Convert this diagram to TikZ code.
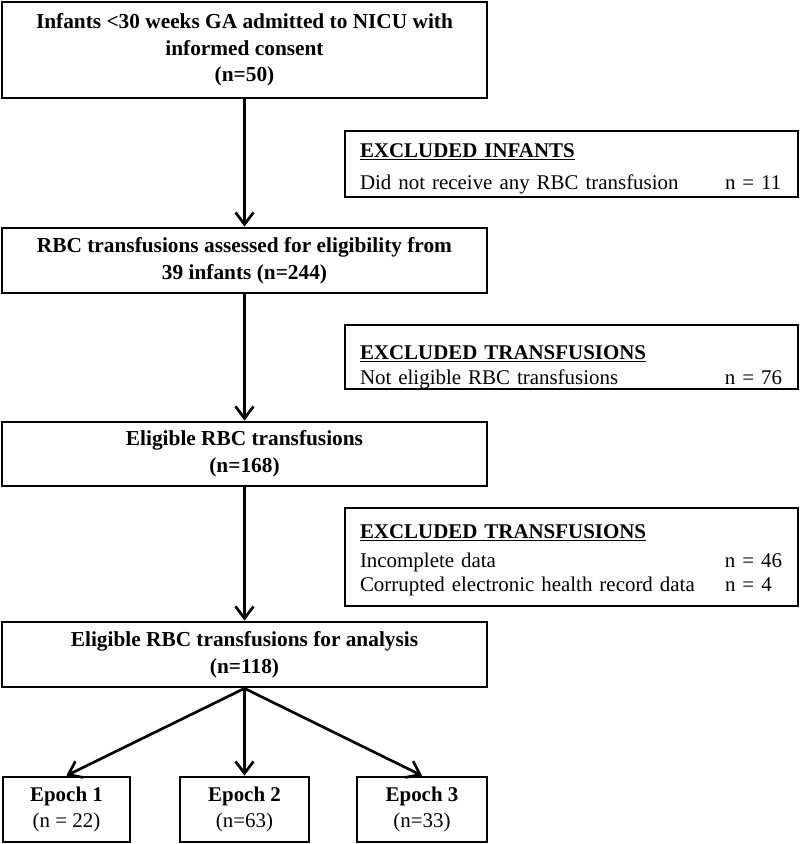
\documentclass[tikz,border=0pt]{standalone}
\usepackage{fontspec}
\setmainfont{Liberation Serif}
\usetikzlibrary{arrows.meta,positioning}
\newcommand{\exrow}[2]{\makebox[273.75pt][l]{#1}#2}

\begin{document}
\begin{tikzpicture}[x=0.75pt,y=-0.75pt,
  box/.style={draw,line width=2.1pt,minimum width=363.75pt,minimum height=48.75pt,inner sep=2pt,align=center,font=\fontsize{16}{20}\selectfont\bfseries},
  exbox/.style={draw,line width=2.1pt,text width=317.25pt,inner xsep=11.25pt,inner ysep=0pt,align=left,font=\fontsize{15.7}{18}\selectfont},
  epbox/.style={draw,line width=2.1pt,minimum height=48.75pt,inner sep=2pt,align=center,font=\fontsize{15.7}{20}\selectfont},
  arr/.style={-{Straight Barb[length=9pt,width=13.5pt]},line width=2pt}]
\useasboundingbox (0,0) rectangle (800,844);
% main flow
\node[box,minimum height=72pt] (inf) at (244.5,50) {Infants <30 weeks GA admitted to NICU with\\informed consent\\(n=50)};
\node[box] (rbc) at (244.5,260.5) {RBC transfusions assessed for eligibility from\\39 infants (n=244)};
\node[box,minimum height=48pt] (elig) at (244.5,454) {Eligible RBC transfusions\\(n=168)};
\node[box] (anal) at (244.5,654.5) {Eligible RBC transfusions for analysis\\(n=118)};
% exclusions
\node[exbox] (ex1) at (571.5,164) {\rule{0pt}{19.5pt}\underline{\textbf{EXCLUDED INFANTS}}\\[6pt]\exrow{Did not receive any RBC transfusion}{n = 11}\rule[-6pt]{0pt}{0pt}};
\node[exbox] (ex2) at (571.5,357) {\rule{0pt}{25.5pt}\underline{\textbf{EXCLUDED TRANSFUSIONS}}\\[0.75pt]\exrow{Not eligible RBC transfusions}{n = 76}\rule[-3.75pt]{0pt}{0pt}};
\node[exbox] (ex3) at (571.5,557) {\rule{0pt}{22.5pt}\underline{\textbf{EXCLUDED TRANSFUSIONS}}\\[3.75pt]\exrow{Incomplete data}{n = 46}\\\exrow{Corrupted electronic health record data}{n = 4}\rule[-11.25pt]{0pt}{0pt}};
% epochs
\node[epbox,minimum width=95.25pt] (ep1) at (66.5,809.5) {\textbf{Epoch 1}\\(n = 22)};
\node[epbox,minimum width=96.75pt] (ep2) at (244.5,809.5) {\textbf{Epoch 2}\\(n=63)};
\node[epbox,minimum width=97.5pt] (ep3) at (422,809.5) {\textbf{Epoch 3}\\(n=33)};
\draw[arr] (inf) -- (rbc);
\draw[arr] (rbc) -- (elig);
\draw[arr] (elig) -- (anal);
\draw[arr] (anal.south) -- (ep1.north);
\draw[arr] (anal.south) -- (ep2.north);
\draw[arr] (anal.south) -- (ep3.north);
\end{tikzpicture}
\end{document}
